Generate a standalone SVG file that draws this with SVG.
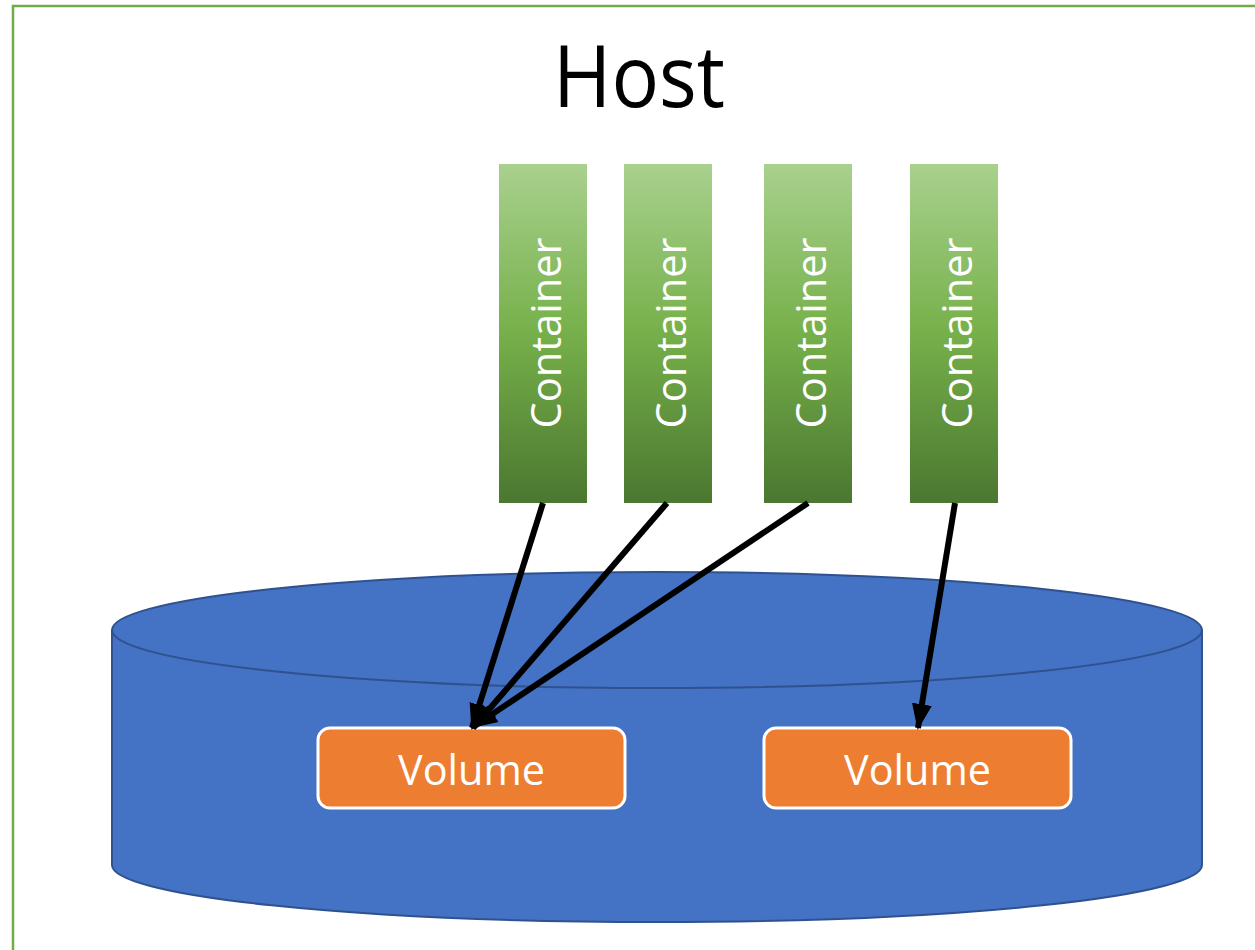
<svg xmlns="http://www.w3.org/2000/svg" width="1255" height="950" viewBox="0 0 1255 950">
<defs>
<linearGradient id="g" x1="0" y1="0" x2="0" y2="1">
<stop offset="0" stop-color="#A9D18E"/>
<stop offset="0.5" stop-color="#76B04A"/>
<stop offset="1" stop-color="#4B7730"/>
</linearGradient>
<marker id="ah" markerUnits="userSpaceOnUse" markerWidth="26" markerHeight="22" refX="24" refY="11" orient="auto">
<path d="M0,1 L26,11 L0,21 Z" fill="#000"/>
</marker>
<style>
.ct{fill:url(#g);}
.ctt{font-family:"Open Sans","Liberation Sans",sans-serif;font-size:42px;fill:#fff;text-anchor:middle;}
.vol{fill:#ED7D31;stroke:#fff;stroke-width:3;}
.vt{font-family:"Open Sans","Liberation Sans",sans-serif;font-size:42px;fill:#fff;text-anchor:middle;}
.ar{stroke:#000;stroke-width:6;fill:none;marker-end:url(#ah);}
</style>
</defs>
<rect width="1255" height="950" fill="#fff"/>
<g id="host">
<rect x="13" y="6" width="1300" height="1000" fill="#fff" stroke="#70AD47" stroke-width="2.5"/>
<text x="639" y="107" font-family="'Open Sans','Liberation Sans',sans-serif" font-size="86" text-anchor="middle" textLength="172" lengthAdjust="spacingAndGlyphs">Host</text>
</g>
<g id="disk">
<path d="M112,630 L112,865 A545,57 0 0 0 1202,865 L1202,630 A545,58 0 0 0 112,630 Z" fill="#4472C4" stroke="#2F528F" stroke-width="2"/>
<path d="M112,630 A545,58 0 0 0 1202,630" fill="none" stroke="#2F528F" stroke-width="2"/>
</g>
<g id="container1">
<rect class="ct" x="499" y="164" width="88" height="339"/>
<text class="ctt" transform="translate(561,333) rotate(-90)" textLength="191" lengthAdjust="spacingAndGlyphs">Container</text>
</g>
<g id="container2">
<rect class="ct" x="624" y="164" width="88" height="339"/>
<text class="ctt" transform="translate(686,333) rotate(-90)" textLength="191" lengthAdjust="spacingAndGlyphs">Container</text>
</g>
<g id="container3">
<rect class="ct" x="764" y="164" width="88" height="339"/>
<text class="ctt" transform="translate(826,333) rotate(-90)" textLength="191" lengthAdjust="spacingAndGlyphs">Container</text>
</g>
<g id="container4">
<rect class="ct" x="910" y="164" width="88" height="339"/>
<text class="ctt" transform="translate(972,333) rotate(-90)" textLength="191" lengthAdjust="spacingAndGlyphs">Container</text>
</g>
<g id="volume1">
<rect class="vol" x="318" y="728" width="307" height="80" rx="12"/>
<text class="vt" x="471.5" y="785" textLength="147" lengthAdjust="spacingAndGlyphs">Volume</text>
</g>
<g id="volume2">
<rect class="vol" x="764" y="728" width="307" height="80" rx="12"/>
<text class="vt" x="917.5" y="785" textLength="147" lengthAdjust="spacingAndGlyphs">Volume</text>
</g>
<g id="connectors">
<line class="ar" x1="543" y1="503" x2="472" y2="728"/>
<line class="ar" x1="667" y1="503" x2="473" y2="728"/>
<line class="ar" x1="808" y1="503" x2="473" y2="727"/>
<line class="ar" x1="955" y1="503" x2="918" y2="728"/>
</g>
</svg>
